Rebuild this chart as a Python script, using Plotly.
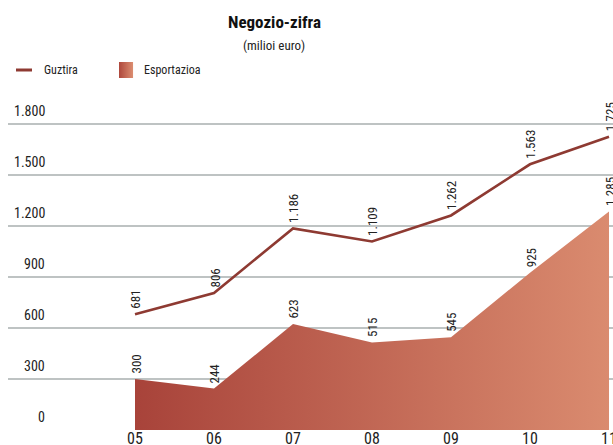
import plotly.graph_objects as go

years = ["05", "06", "07", "08", "09", "10", "11"]
guztira = [681, 806, 1186, 1109, 1262, 1563, 1725]
esportazioa = [300, 244, 623, 515, 545, 925, 1285]
y_ticks = [0, 300, 600, 900, 1200, 1500, 1800]

W, H = 613, 445
FONT = "Liberation Sans Narrow, Roboto Condensed, DejaVu Sans Condensed, Arial Narrow, sans-serif"
LINE_COLOR = "#8E3A32"
GRAD_L, GRAD_R = "#A8433A", "#DA8B6F"

def fmt(v):
    return f"{v:,}".replace(",", ".")

xs = list(range(len(years)))
fig = go.Figure()
fig.add_trace(go.Scatter(
    x=xs, y=esportazioa, mode="lines", fill="tozeroy",
    line=dict(width=0, color=GRAD_L),
    fillgradient=dict(type="horizontal", colorscale=[[0, GRAD_L], [1, GRAD_R]]),
    hoverinfo="skip", showlegend=False,
))
fig.add_trace(go.Scatter(
    x=xs, y=guztira, mode="lines",
    line=dict(width=2.6, color=LINE_COLOR),
    hoverinfo="skip", showlegend=False,
))

ann = []
for series in (guztira, esportazioa):
    for i, v in enumerate(series):
        ann.append(dict(x=i, y=v, xref="x", yref="y", text=fmt(v), showarrow=False,
                        textangle=-90, xanchor="center", yanchor="bottom", yshift=3, xshift=1,
                        font=dict(family=FONT, size=13, color="#222")))
for v in y_ticks:
    ann.append(dict(x=47 / W, y=v, xref="paper", yref="y", text=fmt(v), showarrow=False,
                    xanchor="right", yanchor="bottom", yshift=3,
                    font=dict(family=FONT, size=14, color="#222")))

ann.append(dict(x=274 / W, y=1, xref="paper", yref="paper", yanchor="middle", yshift=100 - 22,
                text="<b>Negozio-zifra</b>", showarrow=False,
                font=dict(family=FONT, size=17, color="#111")))
ann.append(dict(x=274 / W, y=1, xref="paper", yref="paper", yanchor="middle", yshift=100 - 45,
                text="(milioi euro)", showarrow=False,
                font=dict(family=FONT, size=13, color="#222")))
ann.append(dict(x=42 / W, y=1, xref="paper", yref="paper", xanchor="left", yanchor="middle",
                yshift=100 - 70, text="Guztira", showarrow=False,
                font=dict(family=FONT, size=12, color="#222")))
ann.append(dict(x=142 / W, y=1, xref="paper", yref="paper", xanchor="left", yanchor="middle",
                yshift=100 - 70, text="Esportazioa", showarrow=False,
                font=dict(family=FONT, size=12, color="#222")))

shapes = [dict(type="line", xref="paper", yref="paper", x0=16 / W, x1=32 / W,
               y0=(H - 15 - 70) / (H - 115), y1=(H - 15 - 70) / (H - 115),
               line=dict(color=LINE_COLOR, width=3))]

def hexmix(a, b, t):
    a = [int(a[i:i + 2], 16) for i in (1, 3, 5)]
    b = [int(b[i:i + 2], 16) for i in (1, 3, 5)]
    return "#" + "".join(f"{round(x + (y - x) * t):02x}" for x, y in zip(a, b))

n = 14
for k in range(n):
    x0 = 119 + k
    shapes.append(dict(type="rect", xref="paper", yref="paper",
                       x0=x0 / W, x1=(x0 + 1.05) / W,
                       y0=(H - 15 - 78) / (H - 115), y1=(H - 15 - 62) / (H - 115),
                       line=dict(width=0), fillcolor=hexmix("#B04A3E", "#DA8B6F", k / (n - 1))))

px_per_unit = 79
fig.update_layout(
    width=W, height=H,
    margin=dict(l=0, r=0, t=100, b=15),
    plot_bgcolor="white", paper_bgcolor="white",
    xaxis=dict(domain=[8 / W, 1], range=[-127 / px_per_unit, 6 + 4 / px_per_unit],
               tickvals=xs, ticktext=years, showgrid=False, zeroline=False, showline=False,
               ticks="", ticklabeloverflow="allow", automargin=False, ticklabelstandoff=-3,
               tickfont=dict(family=FONT, size=16, color="#222"), fixedrange=True),
    yaxis=dict(range=[0, 330 / 0.17], tickvals=y_ticks, showticklabels=False,
               showgrid=True, gridcolor="#BEC3C3", gridwidth=1.5, zeroline=False, fixedrange=True),
    annotations=ann, shapes=shapes, showlegend=False,
)
fig.write_html("out.html", config={"displayModeBar": False},
               post_script="document.body.style.margin='0';document.body.style.overflow='hidden';")
